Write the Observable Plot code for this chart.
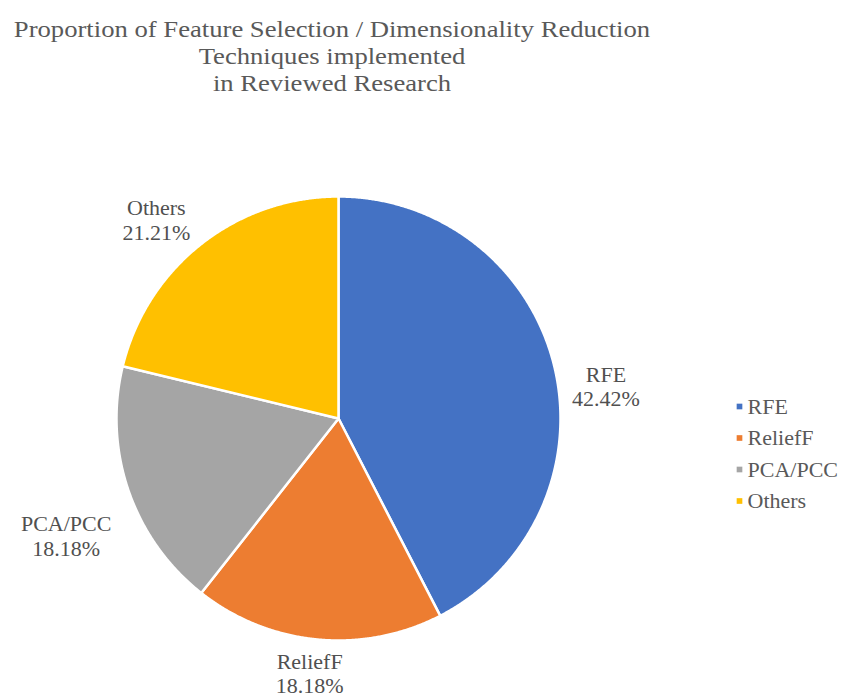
<!DOCTYPE html>
<html><head><meta charset="utf-8">
<script src="https://cdn.jsdelivr.net/npm/d3@7"></script>
<script src="https://cdn.jsdelivr.net/npm/@observablehq/plot@0.6"></script>
<style>
body{margin:0;background:#fff;font-family:"Liberation Serif","Times New Roman",serif;}
#title{width:664px;height:100px;padding-top:16px;box-sizing:border-box;}
#title div{text-align:center;color:#595959;font-size:24px;line-height:27px;white-space:nowrap;transform:scaleX(1.11);transform-origin:332px 0;}
svg text{font-family:"Liberation Serif","Times New Roman",serif !important;}
</style></head><body>
<div id="title"><div>Proportion of Feature Selection / Dimensionality Reduction</div><div>Techniques implemented</div><div>in Reviewed Research</div></div>
<div id="chart"></div>
<script>
const categories = ["RFE", "ReliefF", "PCA/PCC", "Others"];
const percents = [42.42, 18.18, 18.18, 21.21];
const colors = ["#4472C4", "#ED7D31", "#A5A5A5", "#FFC000"];
// label nudges relative to the outside point (layout only)
const labelNudge = [[44, 22], [-7, 26], [-55, 42], [-40, -18]];

const FONT = "Liberation Serif, Times New Roman, serif";
const W = 845, H = 600;
const cx = 338, cy = 318, R = 222;
const pieData = d3.pie().sort(null).value(d => d)(percents);

const slices = [];
pieData.forEach((p, i) => {
  const cat = categories[i];
  slices.push({cat, x: cx, y: cy});
  const n = Math.max(2, Math.ceil((p.endAngle - p.startAngle) / 0.005));
  for (let k = 0; k <= n; k++) {
    const a = p.startAngle + (p.endAngle - p.startAngle) * k / n;
    slices.push({cat, x: cx + R * Math.sin(a), y: cy - R * Math.cos(a)});
  }
});

const labels = pieData.map((p, i) => {
  const a = (p.startAngle + p.endAngle) / 2;
  return {
    cat: categories[i],
    text: categories[i] + "\n" + percents[i].toFixed(2) + "%",
    x: cx + (R + 8) * Math.sin(a) + labelNudge[i][0],
    y: cy - (R + 8) * Math.cos(a) + labelNudge[i][1]
  };
});

const legendX = 739, legendY0 = 306, legendStep = 31.5;
const legend = categories.map((c, i) => ({cat: c, x: legendX, y: legendY0 + i * legendStep}));

const chart = Plot.plot({
  width: W, height: H,
  margin: 0,
  style: {fontFamily: FONT, background: "#fff"},
  x: {type: "identity", axis: null},
  y: {type: "identity", axis: null},
  color: {domain: categories, range: colors},
  marks: [
    Plot.line(slices, {x: "x", y: "y", z: "cat", fill: "cat", stroke: "#fff", strokeWidth: 2.5, curve: "linear-closed"}),
    Plot.text(labels, {x: "x", y: "y", text: "text", fontSize: 22, fontFamily: FONT, fill: "#505050", lineHeight: 1.1}),
    Plot.dot(legend, {x: "x", y: "y", fill: "cat", symbol: "square", r: 3.2}),
    Plot.text(legend, {x: d => d.x + 8, y: "y", text: "cat", textAnchor: "start", fontSize: 22, fontFamily: FONT, fill: "#595959"})
  ]
});
document.getElementById("chart").appendChild(chart);
</script>
</body></html>
